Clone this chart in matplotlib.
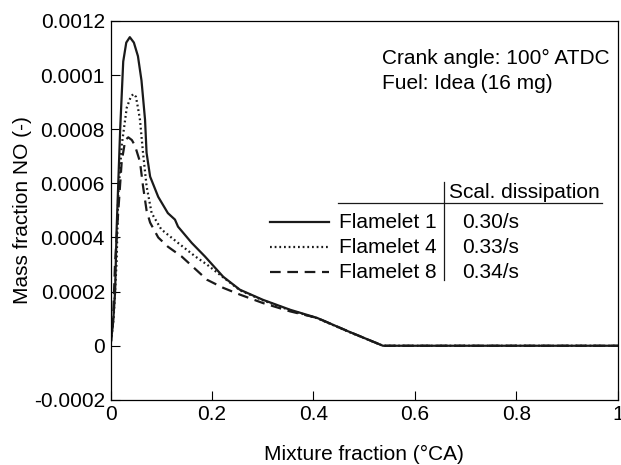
import matplotlib
matplotlib.use('Agg')
import matplotlib.pyplot as plt

plt.rcParams['font.family'] = ['Liberation Sans', 'DejaVu Sans']

# values
x_fl1 = [0, 0.005, 0.009, 0.012, 0.019, 0.025, 0.031, 0.038, 0.046, 0.054, 0.061, 0.068,
         0.071, 0.078, 0.094, 0.113, 0.127, 0.133, 0.16, 0.186, 0.222, 0.255,
         0.3, 0.354, 0.407, 0.47, 0.537, 1.0]
y_fl1 = [0, 0.000085, 0.0002, 0.00043, 0.0008, 0.00105, 0.00112, 0.00114, 0.00112, 0.00107,
         0.00098, 0.000835, 0.000713, 0.000625, 0.00055, 0.00049, 0.000466, 0.00044,
         0.00038, 0.00033, 0.000255, 0.000207, 0.00017, 0.000133, 0.000103, 0.000052, 0, 0]

x_fl4 = [0, 0.006, 0.012, 0.015, 0.022, 0.032, 0.04, 0.045, 0.05, 0.054, 0.058, 0.064,
         0.071, 0.081, 0.1, 0.133, 0.167, 0.19, 0.222, 0.255, 0.3, 0.354, 0.407, 0.47,
         0.537, 1.0]
y_fl4 = [0, 0.0001, 0.00031, 0.00055, 0.00074, 0.00088, 0.00092, 0.00093, 0.00092, 0.00088,
         0.000835, 0.000713, 0.00059, 0.00049, 0.00043, 0.00038, 0.00033, 0.0003, 0.000253,
         0.000205, 0.000168, 0.000131, 0.000102, 0.000051, 0, 0]

x_fl8 = [0, 0.005, 0.009, 0.015, 0.022, 0.029, 0.035, 0.042, 0.048, 0.058, 0.064, 0.071,
         0.078, 0.094, 0.113, 0.14, 0.19, 0.222, 0.255, 0.3, 0.354, 0.407, 0.47, 0.537, 1.0]
y_fl8 = [0, 0.0001, 0.00031, 0.00049, 0.00068, 0.00076, 0.00077, 0.00076, 0.00074, 0.00068,
         0.00059, 0.0005, 0.000455, 0.0004, 0.000366, 0.00033, 0.000244, 0.000214, 0.000189,
         0.000158, 0.000127, 0.000103, 0.000052, 0, 0]

names = ['Flamelet 1', 'Flamelet 4', 'Flamelet 8']
chi = ['0.30/s', '0.33/s', '0.34/s']
styles = ['-', (0, (0.8, 1.3)), (0, (4.8, 3))]

xticks = [0, 0.2, 0.4, 0.6, 0.8, 1]
xticklabels = ['0', '0.2', '0.4', '0.6', '0.8', '1']
yticks = [-0.0002, 0, 0.0002, 0.0004, 0.0006, 0.0008, 0.001, 0.0012]
yticklabels = ['-0.0002', '0', '0.0002', '0.0004', '0.0006', '0.0008', '0.0001', '0.0012']

fig = plt.figure(figsize=(6.21, 4.65), dpi=100)
ax = fig.add_axes([0.178, 0.14, 0.817, 0.815])

data = [(x_fl1, y_fl1), (x_fl4, y_fl4), (x_fl8, y_fl8)]
for (xs, ys), ls in zip(data, styles):
    ax.plot(xs, ys, color='#1a1a1a', lw=1.6, ls=ls)

ax.set_xlim(0, 1)
ax.set_ylim(-0.0002, 0.0012)
ax.set_xticks(xticks)
ax.set_xticklabels(xticklabels)
ax.set_yticks(yticks)
ax.set_yticklabels(yticklabels)
ax.tick_params(direction='in', length=6.5, width=0.8, labelsize=15, pad=4)
for s in ax.spines.values():
    s.set_linewidth(0.9)
ax.set_xlabel('Mixture fraction (°CA)', fontsize=15, labelpad=15)
ax.set_ylabel('Mass fraction NO (-)', fontsize=15, labelpad=1)

# annotation
ax.text(0.535, 0.902, 'Crank angle: 100° ATDC', transform=ax.transAxes, fontsize=15, va='center')
ax.text(0.535, 0.836, 'Fuel: Idea (16 mg)', transform=ax.transAxes, fontsize=15, va='center')

# legend drawn as a small table
tr = ax.transAxes
ax.plot([0.4486, 0.969], [0.519, 0.519], color='#1a1a1a', lw=0.9, transform=tr)
ax.plot([0.6575, 0.6575], [0.316, 0.575], color='#1a1a1a', lw=0.9, transform=tr)
ax.text(0.667, 0.548, 'Scal. dissipation', transform=tr, fontsize=15, va='center')
rows_y = [0.469, 0.403, 0.337]
for yy, nm, c, ls in zip(rows_y, names, chi, styles):
    ax.plot([0.3145, 0.431], [yy, yy], color='#1a1a1a', lw=1.6, ls=ls, transform=tr)
    ax.text(0.6437, yy, nm, transform=tr, fontsize=15, va='center', ha='right')
    ax.text(0.693, yy, c, transform=tr, fontsize=15, va='center')

fig.savefig('out.png', dpi=100)
